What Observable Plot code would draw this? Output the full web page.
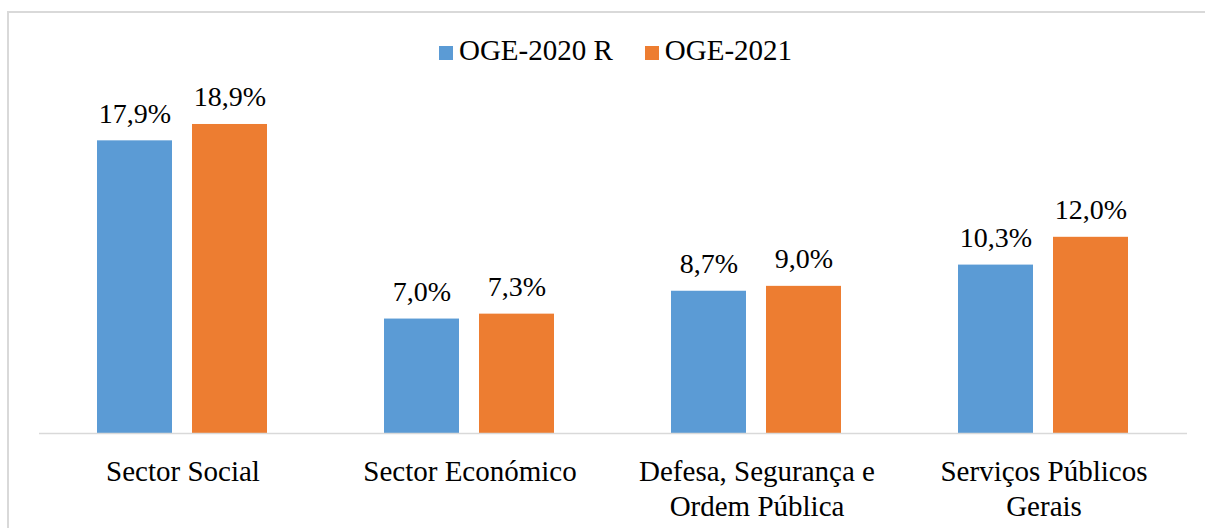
<!DOCTYPE html>
<html>
<head>
<meta charset="utf-8">
<script src="https://cdn.jsdelivr.net/npm/d3@7"></script>
<script src="https://cdn.jsdelivr.net/npm/@observablehq/plot@0.6"></script>
<style>
  html, body { margin: 0; padding: 0; background: #fff; }
  body { width: 1205px; height: 528px; overflow: hidden; position: relative; font-family: "Liberation Serif", "Times New Roman", serif; }
  #frame { position: absolute; left: 7px; top: 11px; width: 1220px; height: 540px; border-left: 2px solid #d9d9d9; border-top: 2px solid #d9d9d9; pointer-events: none; }
  #legend { height: 80px; box-sizing: border-box; padding-top: 36px; padding-left: 26px; display: flex; justify-content: center; font-size: 29px; line-height: 28px; color: #000; }
  #legend .item { display: inline-flex; align-items: baseline; white-space: nowrap; }
  #legend .item + .item { margin-left: 32px; }
  #legend .sw { display: inline-block; width: 14px; height: 14px; margin-right: 6px; position: relative; top: 0px; }
  #chart { position: relative; }
</style>
</head>
<body>
<div id="frame"></div>
<div id="legend"></div>
<div id="chart"></div>
<script>
const categories = ["Sector Social", "Sector Económico", "Defesa, Segurança e Ordem Pública", "Serviços Públicos Gerais"];
const categoryLabels = ["Sector Social", "Sector Económico", "Defesa, Segurança e\nOrdem Pública", "Serviços Públicos\nGerais"];
const series = ["OGE-2020 R", "OGE-2021"];
const values2020 = [17.9, 7.0, 8.7, 10.3];
const values2021 = [18.9, 7.3, 9.0, 12.0];
const colors = ["#5B9BD5", "#ED7D31"];

const data = [];
categories.forEach((c, i) => {
  data.push({cat: c, series: series[0], value: values2020[i]});
  data.push({cat: c, series: series[1], value: values2021[i]});
});
const labelMap = new Map(categories.map((c, i) => [c, categoryLabels[i]]));
const fmt = v => d3.format(".1f")(v).replace(".", ",") + "%";

// legend
const legend = document.getElementById("legend");
series.forEach((s, i) => {
  const item = document.createElement("span");
  item.className = "item";
  const sw = document.createElement("span");
  sw.className = "sw";
  sw.style.background = colors[i];
  item.appendChild(sw);
  item.appendChild(document.createTextNode(s));
  legend.appendChild(item);
});

const chart = Plot.plot({
  width: 1205,
  height: 448,
  marginLeft: 37,
  marginRight: 17,
  marginTop: 26,
  marginBottom: 95,
  style: {fontFamily: "'Liberation Serif', 'Times New Roman', serif", fontSize: "28px", color: "#000", background: "transparent"},
  fx: {domain: categories, paddingInner: 0, paddingOuter: 0, label: null},
  x: {domain: series, paddingInner: 0.21, paddingOuter: 0.6, axis: null},
  y: {domain: [0, 20], axis: null},
  color: {domain: series, range: colors},
  marks: [
    Plot.barY(data, {fx: "cat", x: "series", y: "value", fill: "series"}),
    Plot.ruleY([0], {stroke: "#d9d9d9", strokeWidth: 1.5}),
    Plot.text(data, {fx: "cat", x: "series", y: "value", text: d => fmt(d.value), lineAnchor: "bottom", dy: -18, fontSize: 28, fill: "#000"}),
    Plot.axisFx({anchor: "bottom", tickSize: 0, tickPadding: 23, tickFormat: d => labelMap.get(d), lineHeight: 1.19, fontSize: 29, label: null, fill: "#000"})
  ]
});
document.getElementById("chart").appendChild(chart);
</script>
</body>
</html>
